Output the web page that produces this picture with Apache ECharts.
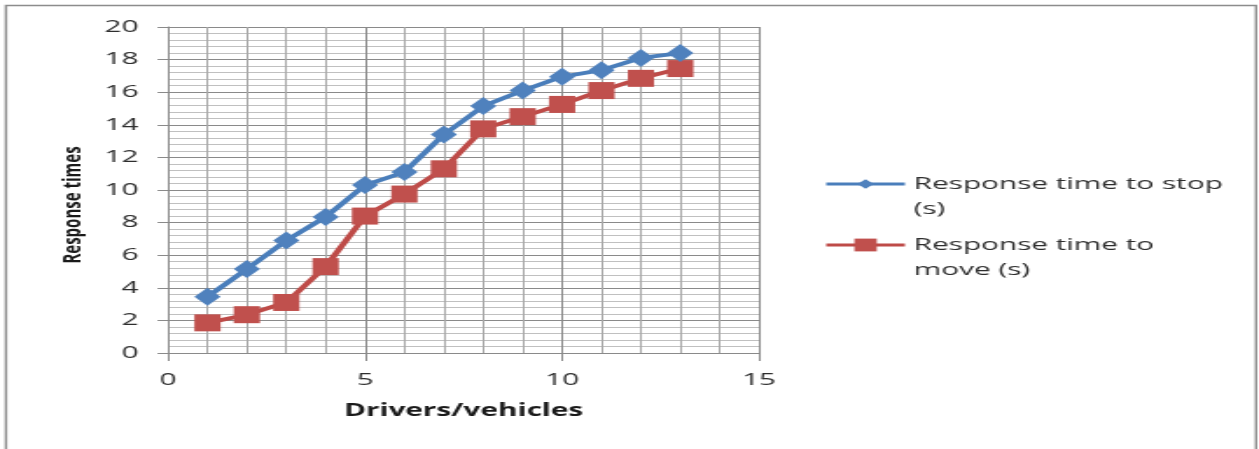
<!DOCTYPE html>
<html>
<head>
<meta charset="utf-8">
<script src="https://cdn.jsdelivr.net/npm/echarts@6/dist/echarts.min.js"></script>
<style>
  html, body { margin: 0; padding: 0; background: #ffffff; overflow: hidden; }
  /* the chart is drawn narrow and widened horizontally */
  #chart { width: 720px; height: 449px; transform: scaleX(1.74861); transform-origin: 0 0; }
</style>
</head>
<body>
<div id="chart"></div>
<script>
// Drivers/vehicles (x) and their response times in seconds
const drivers = [1, 2, 3, 4, 5, 6, 7, 8, 9, 10, 11, 12, 13];
const timeToStop = [3.45, 5.15, 6.9, 8.35, 10.3, 11.1, 13.4, 15.15, 16.1, 16.95, 17.35, 18.1, 18.4];
const timeToMove = [1.85, 2.35, 3.1, 5.3, 8.4, 9.75, 11.3, 13.75, 14.5, 15.25, 16.1, 16.85, 17.45];
const seriesNames = ['Response time to stop (s)', 'Response time to move (s)'];
const legendLabels = {
  'Response time to stop (s)': ['Response time to stop', '(s)'],
  'Response time to move (s)': ['Response time to', 'move (s)']
};
const xTitle = 'Drivers/vehicles';
const yTitle = 'Response times';

const FONT = '"Open Sans", "DejaVu Sans", sans-serif';
const TEXT = '#2e2e2e';

const chart = echarts.init(document.getElementById('chart'), null, { renderer: 'canvas' });

const pairs = vals => drivers.map((d, i) => [d, vals[i]]);

// an empty leading line keeps the legend marker level with the first text line
const legendFormatter = n => ['\u00a0'].concat(legendLabels[n]).join('\n');

const legendText = { fontFamily: FONT, fontSize: 17, color: TEXT, lineHeight: 25 };

chart.setOption({
  animation: false,
  backgroundColor: '#ffffff',
  grid: { left: 96.1, right: 285.9, top: 27, bottom: 96, containLabel: false },
  xAxis: {
    type: 'value', min: 0, max: 15, interval: 5,
    name: xTitle, nameLocation: 'middle', nameGap: 50,
    nameTextStyle: { fontFamily: FONT, fontSize: 17, fontWeight: 'bold', color: '#1a1a1a' },
    axisLine: { show: true, onZero: false, lineStyle: { color: '#8a8a8a', width: 1 } },
    axisTick: { show: true, length: 8, lineStyle: { color: '#8a8a8a' } },
    axisLabel: { margin: 19, fontFamily: FONT, fontSize: 17, color: TEXT },
    splitLine: { show: true, lineStyle: { color: '#8a8a8a', width: 1 } },
    minorTick: { show: false, splitNumber: 5 },
    minorSplitLine: { show: true, lineStyle: { color: '#a8a8a8', width: 1 } }
  },
  yAxis: {
    type: 'value', min: 0, max: 20, interval: 2,
    axisLine: { show: true, lineStyle: { color: '#8a8a8a', width: 1 } },
    axisTick: { show: true, length: 6, lineStyle: { color: '#8a8a8a' } },
    axisLabel: { margin: 17, fontFamily: FONT, fontSize: 17, color: TEXT },
    splitLine: { show: true, lineStyle: { color: '#8a8a8a', width: 1 } },
    minorTick: { show: false, splitNumber: 5 },
    minorSplitLine: { show: true, lineStyle: { color: '#c0c0c0', width: 1 } }
  },
  legend: [
    {
      data: [seriesNames[0]], orient: 'vertical', left: 471, top: 146.5, padding: 0,
      itemWidth: 45, itemHeight: 12, formatter: legendFormatter, textStyle: legendText,
      lineStyle: { width: 3 }
    },
    {
      data: [seriesNames[1]], orient: 'vertical', left: 471, top: 207.5, padding: 0,
      itemWidth: 45, itemHeight: 16, formatter: legendFormatter, textStyle: legendText,
      lineStyle: { width: 3 }
    }
  ],
  graphic: [
    {
      type: 'rect', silent: true, z: -1,
      shape: { x: 3.4, y: 5.5, width: 714.9, height: 470 },
      style: { fill: 'none', stroke: '#8c8c8c', lineWidth: 1.4 }
    },
    {
      type: 'text', x: 41.7, y: 205, rotation: Math.PI / 2, silent: true,
      style: {
        text: yTitle, fontFamily: FONT, fontSize: 15, fontWeight: 'bold', fill: '#1a1a1a',
        align: 'center', verticalAlign: 'middle'
      }
    }
  ],
  series: [
    {
      name: seriesNames[0], type: 'line', data: pairs(timeToStop),
      symbol: 'diamond', symbolSize: [15, 18],
      lineStyle: { color: '#4a7ebb', width: 3.8 },
      itemStyle: { color: '#4f81bd' }, z: 3
    },
    {
      name: seriesNames[1], type: 'line', data: pairs(timeToMove),
      symbol: 'rect', symbolSize: [15, 17],
      lineStyle: { color: '#be4b48', width: 3.8 },
      itemStyle: { color: '#c0504d' }, z: 2
    }
  ]
});
</script>
</body>
</html>
